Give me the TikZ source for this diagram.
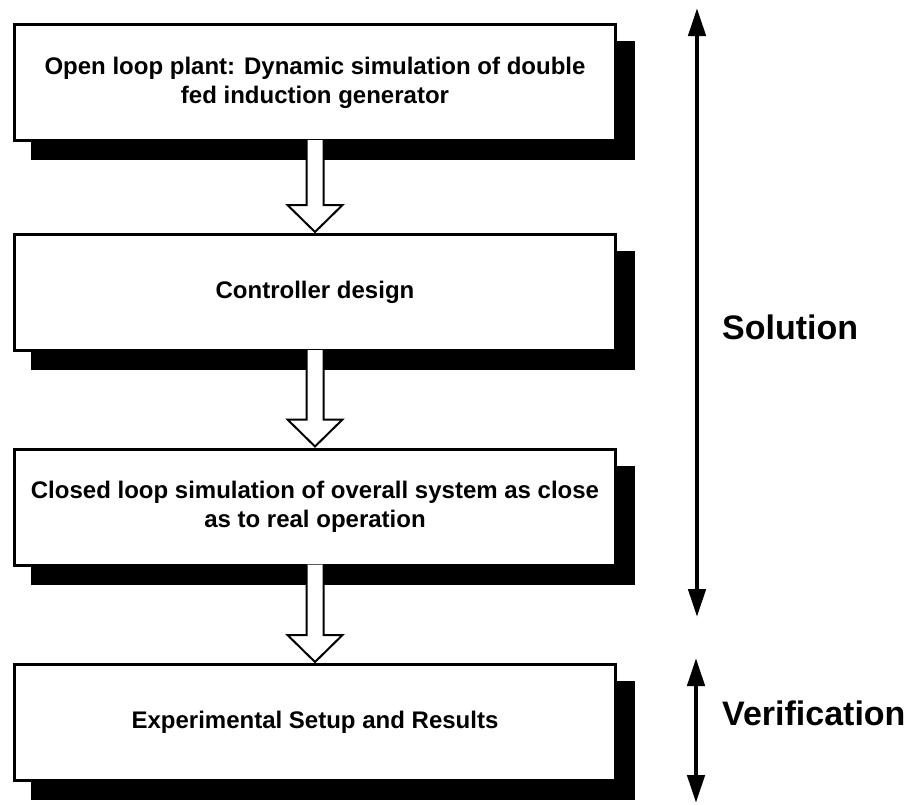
\documentclass[tikz,border=0pt]{standalone}
\usepackage{fontspec}
\setmainfont{Liberation Sans}
\usetikzlibrary{arrows.meta,calc}
\pgfdeclarelayer{background}
\pgfsetlayers{background,main}

\tikzset{
  stage/.style={draw=black, fill=white, line width=3pt, inner sep=0pt,
    minimum width=601pt, minimum height=116pt, align=center,
    font=\fontsize{24}{29}\selectfont\bfseries},
  shade/.style={fill=black},
  flow/.style={draw=black, fill=white, line width=2pt, line join=miter},
  span/.style={line width=4.5pt,
    {Triangle[length=28pt,width=17pt]}-{Triangle[length=28pt,width=17pt]}},
  phase/.style={anchor=west, inner sep=0pt,
    font=\fontsize{34}{40}\selectfont\bfseries}
}

% hollow block arrow from the bottom of one stage to the top of the next
\newcommand\stagearrow[2]{%
  \draw[flow] ($(#1.south)+(-8.5,-2)$) -- ($(#2.north)+(-8.5,-28)$)
    -- ($(#2.north)+(-27.5,-28)$) -- ($(#2.north)+(0,-1)$)
    -- ($(#2.north)+(27.5,-28)$) -- ($(#2.north)+(8.5,-28)$)
    -- ($(#1.south)+(8.5,-2)$);}

\begin{document}
\begin{tikzpicture}[x=1pt,y=-1pt]
\useasboundingbox (0,0) rectangle (916,804);

% the four stages
\node[stage] (b1) at (315,82.5)
  {Open loop plant: Dynamic simulation of double\\fed induction generator};
\node[stage] (b2) at (315,292.5) {Controller design};
\node[stage] (b3) at (315,507)
  {Closed loop simulation of overall system as close\\as to real operation};
\node[stage] (b4) at (315,722.5) {Experimental Setup and Results};

% solid shadows behind the stages
\begin{pgfonlayer}{background}
  \foreach \b in {b1,b2,b3,b4}
    \fill[shade] ([shift={(18,18)}]\b.north west)
      rectangle ([shift={(18,18)}]\b.south east);
\end{pgfonlayer}

% arrows between stages
\stagearrow{b1}{b2}
\stagearrow{b2}{b3}
\stagearrow{b3}{b4}

% phase markers on the right
\coordinate (solTop) at (697,8);
\coordinate (solBot) at (697,617);
\draw[span] (solTop) -- (solBot);
\node[phase] (sol) at (722,327) {Solution};

\coordinate (verTop) at (696,658);
\coordinate (verBot) at (696,803);
\draw[span] (verTop) -- (verBot);
\node[phase] (ver) at (722,713) {Verification};
\end{tikzpicture}
\end{document}
